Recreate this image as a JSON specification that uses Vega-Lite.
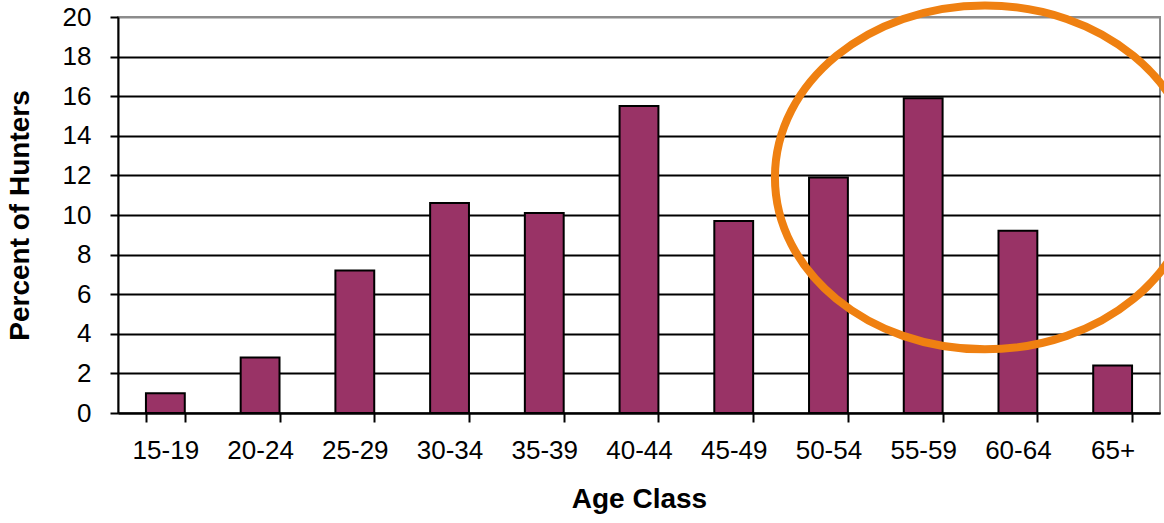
{
  "$schema": "https://vega.github.io/schema/vega-lite/v6.json",
  "width": 1042,
  "height": 396,
  "autosize": {"type": "none"},
  "padding": {"left": 118, "top": 17, "right": 4, "bottom": 110},
  "background": "white",
  "config": {
    "view": {"stroke": "#8c8c8c", "strokeWidth": 2},
    "font": "Liberation Sans"
  },
  "datasets": {
    "bars": [
      {"age": "15-19", "pct": 1.0},
      {"age": "20-24", "pct": 2.8},
      {"age": "25-29", "pct": 7.2},
      {"age": "30-34", "pct": 10.6},
      {"age": "35-39", "pct": 10.1},
      {"age": "40-44", "pct": 15.5},
      {"age": "45-49", "pct": 9.7},
      {"age": "50-54", "pct": 11.9},
      {"age": "55-59", "pct": 15.9},
      {"age": "60-64", "pct": 9.2},
      {"age": "65+", "pct": 2.4}
    ],
    "note": [{"age": "60-64", "pct": 11.9}]
  },
  "encoding": {
    "x": {
      "field": "age",
      "type": "nominal",
      "sort": null,
      "scale": {"paddingInner": 0.59, "paddingOuter": 0.295},
      "axis": {
        "title": "Age Class",
        "titleFont": "Liberation Sans",
        "titleFontSize": 28,
        "titleFontWeight": "bold",
        "titleColor": "black",
        "titlePadding": 22,
        "labelAngle": 0,
        "labelFontSize": 26,
        "labelColor": "black",
        "labelPadding": 15,
        "labelOverlap": false,
        "tickBand": "extent",
        "tickSize": 9,
        "tickWidth": 2,
        "tickColor": "black",
        "domainColor": "black",
        "domainWidth": 2,
        "grid": false
      }
    },
    "y": {
      "field": "pct",
      "type": "quantitative",
      "scale": {"domain": [0, 20], "nice": false},
      "axis": {
        "title": "Percent of Hunters",
        "titleFont": "Liberation Sans",
        "titleFontSize": 28,
        "titleFontWeight": "bold",
        "titleColor": "black",
        "titlePadding": 28,
        "values": [0, 2, 4, 6, 8, 10, 12, 14, 16, 18, 20],
        "tickCount": 20,
        "labelFontSize": 26,
        "labelColor": "black",
        "labelPadding": 19,
        "labelOverlap": false,
        "labelFlush": false,
        "tickSize": 8,
        "tickWidth": 2,
        "tickColor": "black",
        "domainColor": "black",
        "domainWidth": 2,
        "grid": true,
        "gridColor": {"condition": {"test": "datum.value == 20", "value": "#8c8c8c"}, "value": "black"},
        "gridWidth": 2
      }
    }
  },
  "layer": [
    {
      "data": {"name": "bars"},
      "mark": {"type": "bar", "fill": "#993366", "stroke": "black", "strokeWidth": 2}
    },
    {
      "data": {"name": "note"},
      "mark": {
        "type": "point",
        "shape": "M -1.157,0 A 1,0.819 0 1,1 0.843,0 A 1,0.819 0 1,1 -1.157,0 Z",
        "size": 176400,
        "filled": false,
        "stroke": "#EF8011",
        "strokeWidth": 8,
        "opacity": 1
      }
    }
  ]
}
